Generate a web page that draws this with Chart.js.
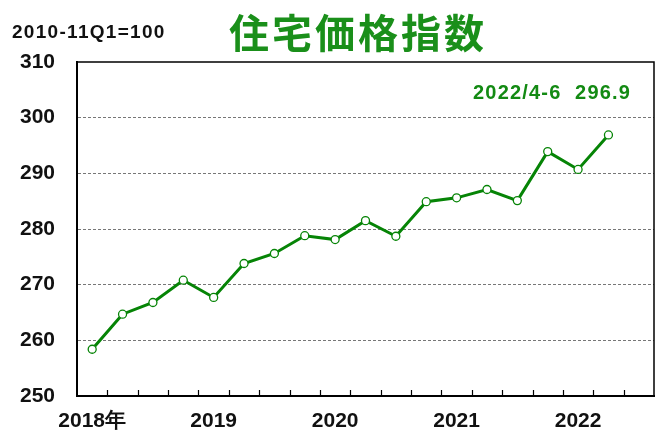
<!DOCTYPE html>
<html>
<head>
<meta charset="utf-8">
<script src="https://cdn.jsdelivr.net/npm/chart.js@4"></script>
<style>
  html, body { margin: 0; padding: 0; background: #fff; }
  #wrap { position: relative; width: 667px; height: 435px; }
  #chart { position: absolute; left: 0; top: 0; }
  .txt { position: absolute; white-space: pre; font-family: "Liberation Sans", Arial, sans-serif; font-weight: bold; }
  #unit { left: 12px; top: 21px; font-size: 19px; letter-spacing: 1.3px; color: #111; }
  #title { left: 229px; top: 2px; font-family: "Noto Sans CJK JP", sans-serif; font-size: 40px; color: #1a8f1a; letter-spacing: 3px; }
  #latest { left: 473px; top: 81px; font-size: 20px; letter-spacing: 1.2px; color: #138a13; }
</style>
</head>
<body>
<div id="wrap">
  <canvas id="chart" width="667" height="435"></canvas>
  <div id="unit" class="txt">2010-11Q1=100</div>
  <div id="title" class="txt">住宅価格指数</div>
  <div id="latest" class="txt">2022/4-6  296.9</div>
</div>
<script>
var quarters = [
  '2018Q1', '2018Q2', '2018Q3', '2018Q4',
  '2019Q1', '2019Q2', '2019Q3', '2019Q4',
  '2020Q1', '2020Q2', '2020Q3', '2020Q4',
  '2021Q1', '2021Q2', '2021Q3', '2021Q4',
  '2022Q1', '2022Q2', '2022Q3'
];
var yearLabels = ['2018年', '', '', '', '2019', '', '', '', '2020', '', '', '', '2021', '', '', '', '2022', '', ''];
var indexValues = [
  258.4, 264.7, 266.8, 270.8,
  267.7, 273.8, 275.6, 278.8,
  278.1, 281.5, 278.7, 284.9,
  285.6, 287.1, 285.1, 293.9,
  290.7, 296.9, null
];
var yMin = 250;
var yMax = 310;
var yStep = 10;

var lineGreen = '#068406';

// frame on top/right + small inward ticks between quarters
var framePlugin = {
  id: 'frame',
  afterDraw: function (chart) {
    var ctx = chart.ctx;
    var area = chart.chartArea;
    var xs = chart.scales.x;
    ctx.save();
    ctx.strokeStyle = '#000';
    ctx.lineWidth = 1.5;
    ctx.beginPath();
    ctx.moveTo(area.left, area.top);
    ctx.lineTo(area.right, area.top);
    ctx.lineTo(area.right, area.bottom);
    ctx.stroke();

    ctx.beginPath();
    for (var i = 1; i < quarters.length; i++) {
      var x = Math.round((xs.getPixelForValue(i - 1) + xs.getPixelForValue(i)) / 2) + 0.5;
      ctx.moveTo(x, area.bottom);
      ctx.lineTo(x, area.bottom - 6);
    }
    ctx.lineWidth = 1.2;
    ctx.stroke();
    ctx.restore();
  }
};

new Chart(document.getElementById('chart'), {
  type: 'line',
  data: {
    labels: quarters,
    datasets: [{
      data: indexValues,
      borderColor: lineGreen,
      borderWidth: 3,
      pointRadius: 4,
      pointBorderWidth: 1.3,
      pointBackgroundColor: '#fff',
      pointBorderColor: lineGreen,
      tension: 0,
      spanGaps: false
    }]
  },
  options: {
    responsive: false,
    animation: false,
    layout: { padding: { top: 62, right: 13, left: 0, bottom: 0 } },
    plugins: {
      legend: { display: false },
      tooltip: { enabled: false }
    },
    scales: {
      x: {
        type: 'category',
        offset: true,
        grid: { display: false, drawTicks: false },
        border: { display: true, color: '#000', width: 2 },
        ticks: {
          autoSkip: false,
          maxRotation: 0,
          padding: 13,
          color: '#111',
          font: { family: 'Liberation Sans', size: 21, weight: 'bold' },
          callback: function (v, i) { return yearLabels[i]; }
        },
        afterFit: function (s) { s.height = 39; }
      },
      y: {
        min: yMin,
        max: yMax,
        ticks: {
          stepSize: yStep,
          padding: 22,
          color: '#111',
          font: { family: 'Liberation Sans', size: 21, weight: 'bold' }
        },
        grid: {
          drawTicks: false,
          color: function (c) {
            return (c.tick.value === yMin || c.tick.value === yMax) ? 'rgba(0,0,0,0)' : '#777';
          },
          lineWidth: 1
        },
        border: { display: true, color: '#000', width: 2, dash: [3, 2] },
        afterFit: function (s) { s.width = 77; }
      }
    }
  },
  plugins: [framePlugin]
});
</script>
</body>
</html>
